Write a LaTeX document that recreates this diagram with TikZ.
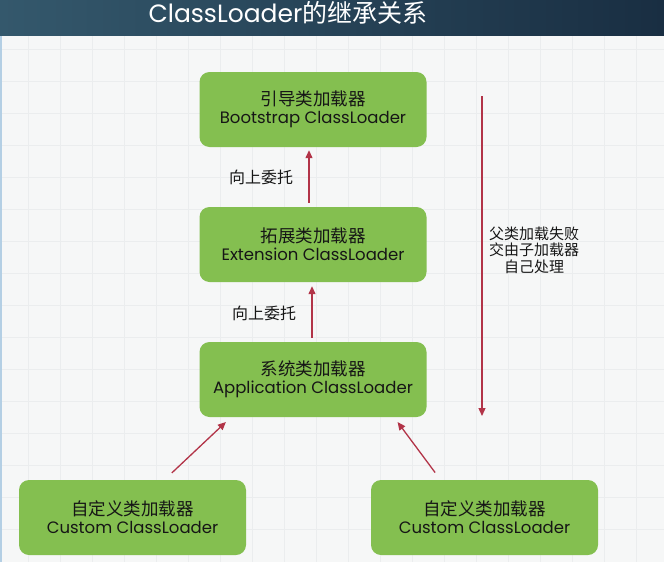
\documentclass[tikz,border=0pt]{standalone}
\usepackage{fontspec}
\setmainfont{Poppins}
\newfontfamily\cjk{Noto Sans CJK SC}
\usetikzlibrary{arrows.meta}

\definecolor{boxgreen}{RGB}{132,191,80}
\definecolor{arrowred}{RGB}{178,52,72}
\definecolor{gridline}{RGB}{235,237,238}
\definecolor{paper}{RGB}{246,247,247}
\definecolor{headleft}{RGB}{52,88,108}
\definecolor{headright}{RGB}{25,46,66}
\definecolor{edgeblue}{RGB}{180,207,228}
\definecolor{textdark}{RGB}{22,22,22}

\tikzset{
  loaderbox/.style={fill=boxgreen, rounded corners=10pt, minimum width=227pt, minimum height=75pt,
    inner sep=0pt, align=center, text=textdark, font=\fontsize{16.5}{18}\selectfont},
  delegate/.style={draw=arrowred, line width=1.3pt, -{Triangle[length=8pt,width=7pt]}},
  steplabel/.style={text=textdark, inner sep=0pt, font=\cjk\fontsize{16}{18}\selectfont},
  notetext/.style={text=textdark, inner sep=0pt, align=center, font=\cjk\fontsize{15}{16.5}\selectfont},
}

\begin{document}
\begin{tikzpicture}[x=1pt,y=1pt,yscale=-1,xscale=1]
\useasboundingbox (0,0) rectangle (664,562);

%Background: paper with grid
\fill[paper] (0,0) rectangle (664,562);
\foreach \x in {28,60,...,660} \draw[gridline,line width=0.8pt] (\x,35) -- (\x,562);
\foreach \y in {49,81,...,560} \draw[gridline,line width=0.8pt] (0,\y) -- (664,\y);
\draw[edgeblue,line width=2pt] (1,35) -- (1,562);

%Header band
\shade[left color=headleft,right color=headright] (0,0) rectangle (664,35);
% Text Node
\node (title) [anchor=base,text=white,inner sep=0pt,font=\fontsize{25}{25}\selectfont] at (288,22) {ClassLoader{\cjk 的继承关系}};

%Loader boxes
\node (boot) [loaderbox] at (313,109.5) {{\cjk\fontsize{17.5}{18}\selectfont 引导类加载器}\\Bootstrap ClassLoader};
\node (ext) [loaderbox] at (313,244.5) {{\cjk\fontsize{17.5}{18}\selectfont 拓展类加载器}\\Extension ClassLoader};
\node (app) [loaderbox] at (313,379.5) {{\cjk\fontsize{17.5}{18}\selectfont 系统类加载器}\\Application ClassLoader};
\node (custl) [loaderbox] at (132.5,517.5) {{\cjk\fontsize{17.5}{18}\selectfont 自定义类加载器}\\Custom ClassLoader};
\node (custr) [loaderbox] at (484.5,517.5) {{\cjk\fontsize{17.5}{18}\selectfont 自定义类加载器}\\Custom ClassLoader};

%Delegation arrows
\draw[delegate,shorten <=4pt,shorten >=3pt] ([xshift=-4pt]ext.north) -- ([xshift=-4pt]boot.south);
\draw[delegate,shorten <=4pt,shorten >=4pt] ([xshift=-1pt]app.north) -- ([xshift=-1pt]ext.south);
\draw[delegate,shorten <=10pt,shorten >=7pt] ([xshift=32pt]custl.north) -- ([xshift=-82pt]app.south);
\draw[delegate,shorten <=9pt,shorten >=6pt] ([xshift=-44pt]custr.north) -- ([xshift=81pt]app.south);

% Text Node
\node (up1) [steplabel] at (261,177) {向上委托};
% Text Node
\node (up2) [steplabel] at (264,313) {向上委托};

%Fallback arrow
\coordinate (failtop) at (482,96);
\coordinate (failbot) at (482,416);
\draw[delegate] (failtop) -- (failbot);
% Text Node
\node (fallback) [notetext] at (534,250) {父类加载失败\\交由子加载器\\自己处理};
\end{tikzpicture}
\end{document}
